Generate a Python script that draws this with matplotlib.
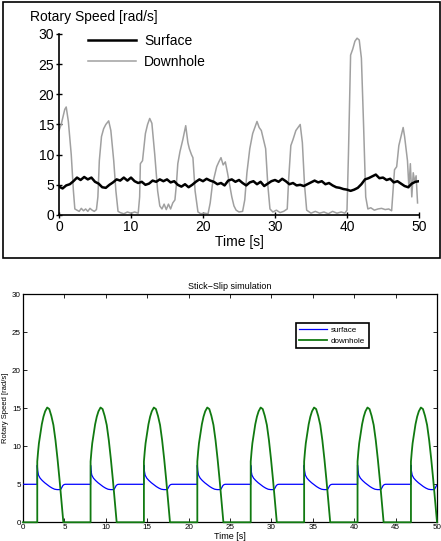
import matplotlib
matplotlib.use("Agg")
import matplotlib.pyplot as plt
from matplotlib.patches import Rectangle
import numpy as np

plt.rcParams['font.family'] = ['Liberation Sans', 'DejaVu Sans']

surface_v = [
    4.7, 4.4, 4.9, 5.1, 5.6, 6.2, 5.8, 6.3, 5.9, 6.2,
    5.5, 5.2, 4.6, 4.5, 5.0, 5.4, 5.9, 5.7, 6.2, 5.7,
    6.2, 5.6, 5.3, 5.5, 5.0, 5.2, 5.7, 5.5, 5.9, 5.6,
    5.9, 5.4, 5.6, 5.0, 4.7, 5.1, 4.6, 5.0, 5.5, 5.9,
    5.6, 6.0, 5.7, 5.5, 5.1, 5.3, 4.9, 5.7, 5.9, 5.5,
    5.8, 5.3, 4.9, 5.4, 5.6, 5.1, 5.5, 4.8, 5.2, 5.6,
    5.8, 5.5, 6.0, 5.6, 5.1, 5.3, 4.9, 5.0, 4.8, 5.1,
    5.4, 5.7, 5.4, 5.6, 5.1, 5.3, 4.9, 4.6, 4.5, 4.3,
    4.2, 4.0, 4.2, 4.5, 5.1, 5.9, 6.1, 6.4, 6.7, 6.1,
    6.2, 5.8, 6.0, 5.4, 5.6, 5.2, 4.8, 4.6, 5.2, 5.5,
    5.6,
]
surface_t = np.linspace(0, 50, len(surface_v))

downhole_t = [
    0.0, 0.3, 0.6, 0.8, 1.0, 1.3, 1.7, 2.0, 2.2, 2.5,
    2.8, 3.1, 3.4, 3.7, 4.0, 4.3, 4.6, 4.9, 5.2, 5.4,
    5.6, 5.9, 6.2, 6.5, 6.9, 7.2, 7.6, 7.9, 8.2, 8.5,
    9.0, 9.5, 10.0, 10.5, 11.0, 11.2, 11.3, 11.6, 12.0, 12.3,
    12.6, 12.9, 13.3, 13.7, 14.0, 14.3, 14.6, 14.9, 15.2, 15.5,
    15.8, 16.1, 16.3, 16.5, 16.8, 17.2, 17.6, 17.9, 18.1, 18.4,
    18.6, 18.9, 19.3, 19.7, 20.2, 20.7, 21.0, 21.3, 21.6, 21.9,
    22.2, 22.5, 22.8, 23.1, 23.4, 23.7, 24.0, 24.3, 24.6, 25.0,
    25.5, 25.8, 26.1, 26.5, 26.9, 27.2, 27.5, 27.8, 28.1, 28.4,
    28.7, 29.0, 29.3, 29.7, 30.2, 30.7, 31.2, 31.7, 31.9, 32.2,
    32.5, 32.9, 33.2, 33.5, 33.8, 34.1, 34.4, 35.0, 35.6, 36.2,
    36.8, 37.4, 38.0, 38.6, 39.2, 39.7, 40.0, 40.2, 40.5, 40.8,
    41.1, 41.4, 41.7, 42.0, 42.3, 42.6, 42.9, 43.3, 43.8, 44.3,
    44.8, 45.3, 45.8, 46.2, 46.4, 46.6, 46.9, 47.2, 47.5, 47.8,
    48.0, 48.2, 48.4, 48.6, 48.8, 49.0, 49.2, 49.4, 49.6, 49.8,
]
downhole_v = [
    14.0, 15.0, 16.5, 17.5, 17.9, 15.5, 10.0, 4.0, 1.0, 0.8,
    0.6, 1.1, 0.7, 1.0, 0.6, 1.1, 0.8, 0.6, 0.9, 3.0,
    9.0, 13.0, 14.3, 15.0, 15.6, 14.0, 9.0, 4.0, 0.6, 0.4,
    0.2, 0.5, 0.3, 0.5, 0.3, 3.0, 8.5, 9.0, 13.5, 15.0,
    16.0, 15.2, 10.0, 4.0, 1.5, 1.0, 1.8, 0.9, 1.8, 1.0,
    2.0, 2.5, 5.0, 8.5, 10.5, 12.5, 14.8, 12.0, 11.0, 10.0,
    9.5, 4.0, 0.5, 0.2, 0.3, 0.2, 2.0, 5.0, 6.5, 8.0,
    8.8, 9.5, 8.3, 8.8, 7.0, 5.0, 3.0, 1.5, 0.8, 0.5,
    0.6, 2.5, 7.0, 11.0, 13.5, 14.5, 15.5, 14.5, 14.0, 12.5,
    11.0, 5.0, 1.0, 0.5, 0.8, 0.4, 0.6, 1.0, 6.0, 11.5,
    12.5, 14.0, 14.5, 15.0, 12.0, 5.0, 0.8, 0.3, 0.6, 0.3,
    0.5, 0.2, 0.6, 0.3, 0.5, 0.3, 0.8, 10.0, 26.5, 27.5,
    28.8, 29.3, 29.0, 26.0, 15.0, 3.0, 1.0, 1.2, 0.8, 1.0,
    1.1, 0.9, 1.0, 0.7, 4.0, 7.5, 8.0, 11.5, 13.0, 14.5,
    13.0, 11.0, 9.0, 4.5, 8.5, 3.0, 7.0, 5.5, 6.5, 2.0,
]

# ---- simulation (bottom panel): slip instants + one cycle shape ----
slip_times = [1.72, 8.16, 14.6, 21.05, 27.5, 33.95, 40.4, 46.85]

sim_dh_off = [0.0, 0.0, 0.1, 0.2, 0.35, 0.55, 0.75, 0.95, 1.2, 1.45,
              1.7, 1.95, 2.2, 2.45, 2.7, 2.95, 3.15]
sim_dh_val = [0.0, 8.0, 9.3, 10.4, 11.5, 12.9, 13.9, 14.6, 15.1, 14.9,
              14.0, 12.8, 10.8, 8.3, 5.5, 2.4, 0.0]
sim_dh_base = 0.0

sim_sf_off = [0.0, 0.0, 0.05, 0.15, 0.35, 0.6, 0.9, 1.2, 1.5, 1.8,
              2.1, 2.4, 2.7, 2.85, 2.95, 3.1, 3.25, 3.4]
sim_sf_val = [5.0, 7.5, 6.8, 6.2, 5.8, 5.5, 5.2, 4.95, 4.7, 4.5,
              4.35, 4.3, 4.3, 4.35, 4.55, 4.85, 4.97, 5.0]
sim_sf_base = 5.0


def build_series(slips, offsets, values, base, t_end=50.0):
    t, v = [0.0], [base]
    for s in slips:
        for o, y in zip(offsets, values):
            t.append(s + o)
            v.append(y)
    if t[-1] < t_end:
        t.append(t_end)
        v.append(base)
    return t, v


fig = plt.figure(figsize=(4.41, 5.41), dpi=100)

# ---------------- top: scanned field measurement ----------------
fig.patches.append(Rectangle((0.0057, 0.523), 0.992, 0.473, transform=fig.transFigure,
                             fill=False, ec="black", lw=1.2))

ax1 = fig.add_axes([0.1338, 0.6026, 0.8163, 0.3346])
ax1.plot(downhole_t, downhole_v, color="#a0a0a0", lw=1.1, label="Downhole", zorder=2)
ax1.plot(surface_t, surface_v, color="black", lw=1.8, label="Surface", zorder=3)
ax1.set_xlim(0, 50)
ax1.set_ylim(0, 30)
ax1.set_xticks(range(0, 51, 10))
ax1.set_yticks(range(0, 31, 5))
for side in ("top", "right"):
    ax1.spines[side].set_visible(False)
for side in ("left", "bottom"):
    ax1.spines[side].set_linewidth(1.2)
ax1.tick_params(direction="inout", length=5, width=1, labelsize=10, pad=1)
ax1.set_xlabel("Time [s]", fontsize=10, labelpad=1)
handles, labels = ax1.get_legend_handles_labels()
ax1.legend(handles[::-1], labels[::-1], loc="upper left", bbox_to_anchor=(0.08, 1.0),
           frameon=False, fontsize=10, handlelength=3.5, handletextpad=0.55,
           labelspacing=0.5, borderpad=0, borderaxespad=0)
fig.text(30 / 441, 1 - 17 / 541, "Rotary Speed [rad/s]", fontsize=10,
         ha="left", va="center")

# ---------------- bottom: simulation ----------------
ax2 = fig.add_axes([0.0522, 0.0346, 0.9388, 0.4214])
sf_t, sf_v = build_series(slip_times, sim_sf_off, sim_sf_val, sim_sf_base)
dh_t, dh_v = build_series(slip_times, sim_dh_off, sim_dh_val, sim_dh_base)
ax2.plot(sf_t, sf_v, color="#0000ff", lw=0.9, label="surface", zorder=3)
ax2.plot(dh_t, dh_v, color="#117a11", lw=1.3, label="downhole", zorder=3, clip_on=False)
ax2.set_xlim(0, 50)
ax2.set_ylim(0, 30)
ax2.set_xticks(range(0, 51, 5))
ax2.set_yticks(range(0, 31, 5))
ax2.tick_params(direction="in", length=3, width=0.6, labelsize=5.8, pad=1.5,
                top=True, right=True)
for s in ax2.spines.values():
    s.set_linewidth(0.9)
ax2.set_title("Stick\u2212Slip simulation", fontsize=6.5, pad=4)
ax2.set_xlabel("Time [s]", fontsize=6.5, labelpad=0.5)
ax2.set_ylabel("Rotary Speed [rad/s]", fontsize=5.5)
ax2.yaxis.set_label_coords(-0.034, 0.5)
ax2.legend(loc="upper left", bbox_to_anchor=(0.659, 0.874), fontsize=5.8,
           fancybox=False, edgecolor="black", framealpha=1, handlelength=3.4,
           handletextpad=0.5, borderpad=0.45, labelspacing=0.35, borderaxespad=0)
ax2.get_legend().get_frame().set_linewidth(1.2)

fig.savefig("out.png", dpi=100)
